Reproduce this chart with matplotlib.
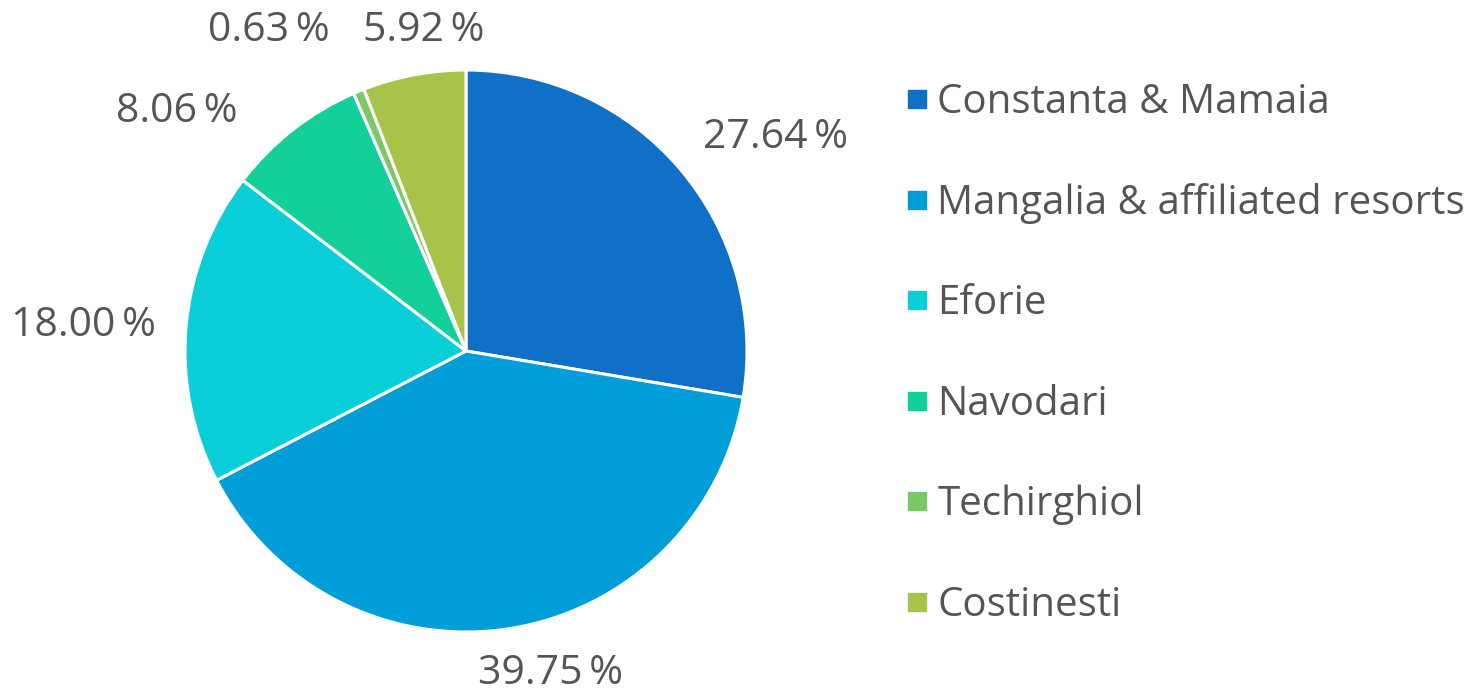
import matplotlib
matplotlib.use("Agg")
import matplotlib.pyplot as plt
from matplotlib.lines import Line2D

categories = ["Constanta & Mamaia", "Mangalia & affiliated resorts", "Eforie",
              "Navodari", "Techirghiol", "Costinesti"]
values = [27.64, 39.75, 18.00, 8.06, 0.63, 5.92]
colors = ["#106FC6", "#009ED8", "#0BCFD8", "#13CF9A", "#7CC866", "#A7C34A"]
# label anchor positions (in pie-radius units)
label_pos = [(1.10, 0.76), (0.30, -1.15), (-1.36, 0.09), (-1.03, 0.85),
             (-0.70, 1.14), (-0.15, 1.14)]

plt.rcParams['font.family'] = ['Open Sans', 'DejaVu Sans']
text_color = "#555555"

W, H = 1475, 693
fig = plt.figure(figsize=(W / 100, H / 100), dpi=100)
cx, cy, r = 466, 351, 281
ax = fig.add_axes([(cx - r) / W, (H - cy - r) / H, 2 * r / W, 2 * r / H])
wedges, _ = ax.pie(values, colors=colors, startangle=90, counterclock=False,
                   radius=1.0, wedgeprops=dict(edgecolor="white", linewidth=2.2))
ax.set_xlim(-1, 1)
ax.set_ylim(-1, 1)
ax.set_aspect("equal")
ax.axis("off")

for v, (x, y) in zip(values, label_pos):
    ax.text(x, y, f"{v:.2f}\u2009%", ha="center", va="center", fontsize=29.5,
            color=text_color, clip_on=False)

handles = [Line2D([0], [0], marker="s", linestyle="none", markersize=13.5,
                  markerfacecolor=c, markeredgecolor=c) for c in colors]
leg = fig.legend(handles, categories, loc="center left",
                 bbox_to_anchor=(885 / W, (H - 354) / H), frameon=False,
                 fontsize=29, labelcolor=text_color, handlelength=0.6,
                 handletextpad=0.2, labelspacing=1.49, borderpad=0)

fig.savefig("out.png", dpi=100)
